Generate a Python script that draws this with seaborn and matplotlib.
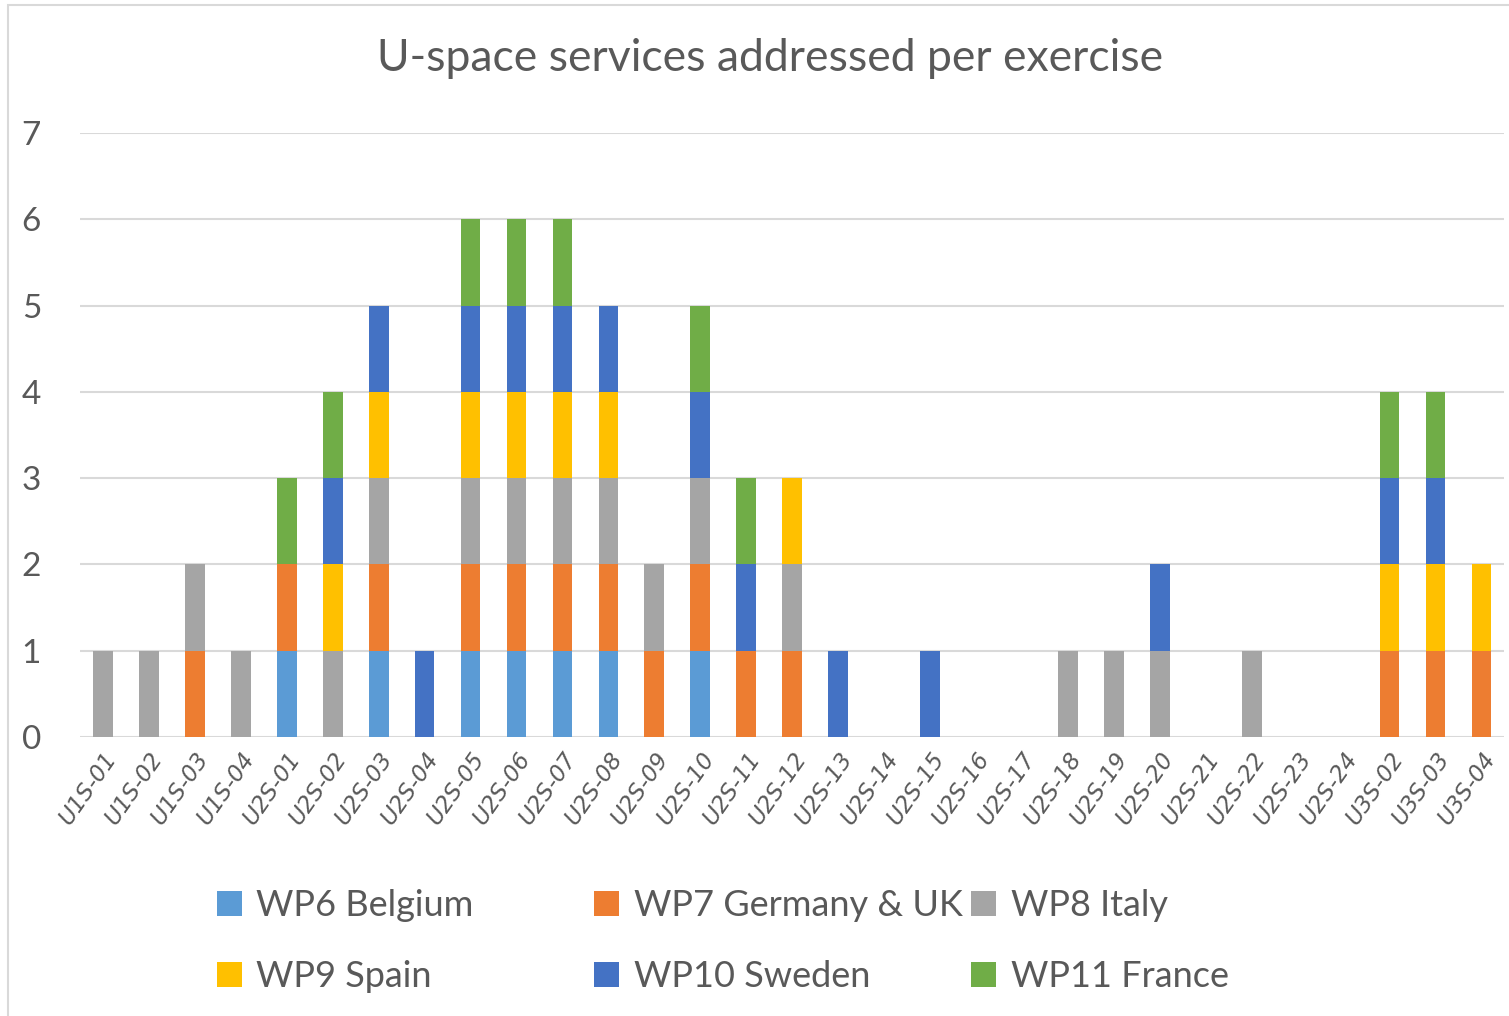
import numpy as np
import pandas as pd
import seaborn as sns
import matplotlib.pyplot as plt
from matplotlib.patches import Patch, Rectangle

exercises = ["U1S-01", "U1S-02", "U1S-03", "U1S-04"] + \
    ["U2S-%02d" % i for i in range(1, 25)] + ["U3S-02", "U3S-03", "U3S-04"]

wp6_belgium = [0, 0, 0, 0, 1, 0, 1, 0, 1, 1, 1, 1, 0, 1, 0, 0, 0, 0, 0, 0, 0, 0, 0, 0, 0, 0, 0, 0, 0, 0, 0]
wp7_germany_uk = [0, 0, 1, 0, 1, 0, 1, 0, 1, 1, 1, 1, 1, 1, 1, 1, 0, 0, 0, 0, 0, 0, 0, 0, 0, 0, 0, 0, 1, 1, 1]
wp8_italy = [1, 1, 1, 1, 0, 1, 1, 0, 1, 1, 1, 1, 1, 1, 0, 1, 0, 0, 0, 0, 0, 1, 1, 1, 0, 1, 0, 0, 0, 0, 0]
wp9_spain = [0, 0, 0, 0, 0, 1, 1, 0, 1, 1, 1, 1, 0, 0, 0, 1, 0, 0, 0, 0, 0, 0, 0, 0, 0, 0, 0, 0, 1, 1, 1]
wp10_sweden = [0, 0, 0, 0, 0, 1, 1, 1, 1, 1, 1, 1, 0, 1, 1, 0, 1, 0, 1, 0, 0, 0, 0, 1, 0, 0, 0, 0, 1, 1, 0]
wp11_france = [0, 0, 0, 0, 1, 1, 0, 0, 1, 1, 1, 0, 0, 1, 1, 0, 0, 0, 0, 0, 0, 0, 0, 0, 0, 0, 0, 0, 1, 1, 0]

series_names = ["WP6 Belgium", "WP7 Germany & UK", "WP8 Italy",
                "WP9 Spain", "WP10 Sweden", "WP11 France"]
series_values = [wp6_belgium, wp7_germany_uk, wp8_italy,
                 wp9_spain, wp10_sweden, wp11_france]
colors = ["#5B9BD5", "#ED7D31", "#A5A5A5", "#FFC000", "#4472C4", "#70AD47"]

df = pd.DataFrame(dict(zip(series_names, series_values)), index=exercises)
cum = df.cumsum(axis=1)

sns.set_style("white")
plt.rcParams['font.family'] = ['Lato', 'DejaVu Sans']

fig = plt.figure(figsize=(15.09, 10.16), dpi=100)
ax = fig.add_axes([0.053, 0.2746, 0.944, 0.5945])

# draw cumulative totals from the top layer down so lower layers cover upper ones
for name, color in reversed(list(zip(series_names, colors))):
    sns.barplot(x=exercises, y=cum[name].values, color=color, width=0.43,
                saturation=1, linewidth=0, ax=ax, zorder=3)

ax.set_ylim(0, 7)
ax.set_xlim(-0.5, len(exercises) - 0.5)
ax.set_yticks(range(0, 8))
ax.yaxis.grid(True, color="#D9D9D9", linewidth=1.5, zorder=0)
ax.set_axisbelow(True)
for s in ax.spines.values():
    s.set_visible(False)
ax.tick_params(axis="both", length=0)
ax.tick_params(axis="y", labelsize=24, labelcolor="#595959", pad=28)
plt.setp(ax.get_xticklabels(), rotation=55, ha="right", rotation_mode="anchor",
         fontsize=16.5, color="#595959", family="DejaVu Sans", style="italic")
ax.tick_params(axis="x", pad=8)
ax.set_xlabel("")
ax.set_ylabel("")

fig.text(0.51, 0.942, "U-space services addressed per exercise", ha="center",
         va="center", fontsize=32, color="#595959")

# border of the chart area
fig.patches.append(Rectangle((0.005, -0.05), 1.2, 1.045, transform=fig.transFigure,
                             fill=False, edgecolor="#D9D9D9", linewidth=1.5))

handles = [Patch(facecolor=c, edgecolor="none") for c in colors]
col_x = [0.122, 0.372, 0.622]
for i in range(3):
    fig.legend([handles[i], handles[i + 3]], [series_names[i], series_names[i + 3]],
               loc="upper left", bbox_to_anchor=(col_x[i], 0.157),
               bbox_transform=fig.transFigure, frameon=False, fontsize=26,
               labelcolor="#595959", handlelength=0.7, handleheight=0.7,
               handletextpad=0.4, labelspacing=1.05)

fig.savefig("out.png", dpi=100)
